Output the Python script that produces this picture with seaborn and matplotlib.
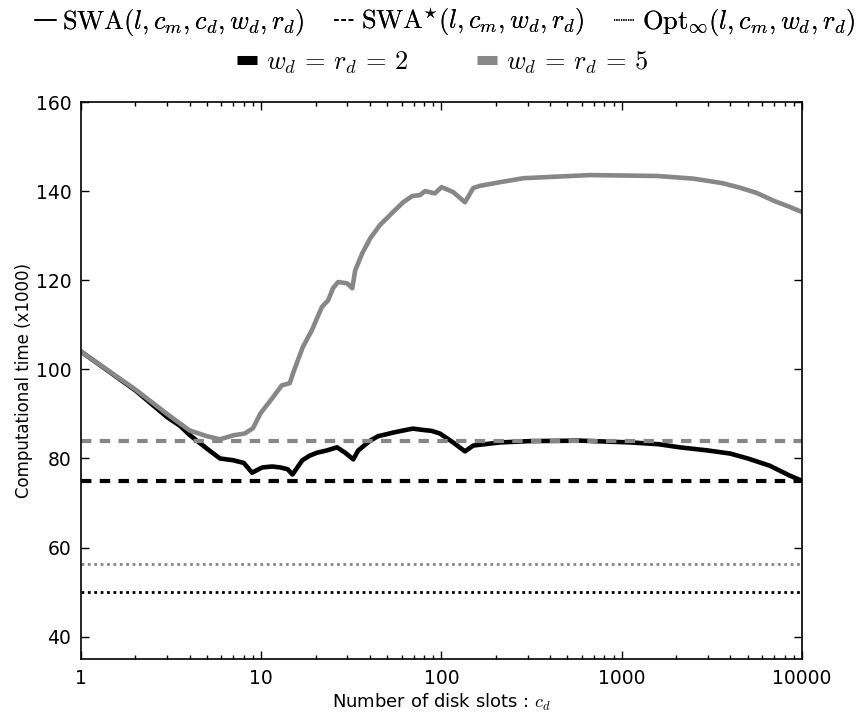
import numpy as np
import pandas as pd
import matplotlib
matplotlib.use("Agg")
import matplotlib.pyplot as plt
from matplotlib.lines import Line2D
from matplotlib.ticker import FixedLocator, FixedFormatter, LogLocator, NullFormatter
import seaborn as sns

# ---- data ----
x_w2 = [1, 2, 3, 3.55, 4, 5, 5.9, 7.0, 8.0, 8.9, 9.9, 10.2, 11.5, 12.7, 14.0, 14.9, 16.9, 18.5,
        20.4, 23.1, 26.3, 29.2, 32.4, 34.5, 40.2, 44.5, 53.8, 60, 69.4, 79, 88, 98, 116, 135,
        150, 211, 311, 588, 1120, 1600, 2100, 3000, 4000, 5000, 6600, 7500, 8500, 10000]
y_w2 = [104, 95.3, 89.3, 87.3, 85.3, 82.2, 80.0, 79.6, 79.0, 76.8, 77.8, 78.0, 78.2, 78.0, 77.6,
        76.4, 79.6, 80.6, 81.3, 81.8, 82.5, 81.3, 79.8, 81.8, 84.0, 85.0, 85.8, 86.2, 86.7, 86.4,
        86.2, 85.6, 83.6, 81.6, 82.9, 83.6, 83.9, 84.0, 83.6, 83.2, 82.5, 81.8, 81.1, 80.0, 78.4,
        77.3, 76.2, 75.0]

x_w5 = [1, 2, 3, 4, 5, 5.9, 7.0, 8.1, 9.0, 9.9, 10.2, 11.5, 13.0, 14.4, 15.0, 17.0, 19.1, 20.4,
        21.7, 23.5, 25, 26.7, 30, 32, 33.2, 36.3, 40.2, 45.6, 53.8, 61.3, 68.8, 76, 81, 92, 100,
        116, 135, 150, 164, 211, 285, 668, 1570, 2500, 3600, 4500, 5600, 7000, 8500, 10000]
y_w5 = [104, 95.5, 90, 86.3, 85.0, 84.3, 85.2, 85.6, 86.8, 90.1, 90.8, 93.5, 96.4, 96.9, 99.1,
        105, 108.8, 111.5, 114, 115.5, 118.2, 119.6, 119.3, 118.2, 122.2, 126, 129.4, 132.4,
        135.3, 137.5, 138.9, 139.1, 140, 139.5, 140.9, 139.8, 137.5, 140.7, 141.2, 142, 142.9,
        143.6, 143.4, 142.8, 141.8, 140.8, 139.6, 137.8, 136.5, 135.3]

swa_star = [75.0, 84.0]   # SWA* for w_d=r_d=2, 5
opt_inf = [50.0, 56.3]    # Opt_inf for w_d=r_d=2, 5

x_ticks = [1, 10, 100, 1000, 10000]
x_ticklabels = ["1", "10", "100", "1000", "10000"]
y_ticks = [40, 60, 80, 100, 120, 140, 160]

series_labels = [r"$w_d\,=\,r_d\,=\,2$", r"$w_d\,=\,r_d\,=\,5$"]
style_labels = [r"$\mathrm{SWA}(l, c_m, c_d, w_d, r_d)$",
                r"$\mathrm{SWA}^{\star}(l, c_m, w_d, r_d)$",
                r"$\mathrm{Opt}_{\infty}(l, c_m, w_d, r_d)$"]

BLACK = "#000000"
GRAY = "#878787"
colors = [BLACK, GRAY]

df = pd.concat([
    pd.DataFrame({"cd": x_w2, "t": y_w2, "s": "w2"}),
    pd.DataFrame({"cd": x_w5, "t": y_w5, "s": "w5"}),
])

sns.set_style("ticks")
plt.rcParams["mathtext.fontset"] = "cm"
plt.rcParams["font.family"] = ["DejaVu Sans"]
for k in ["text.color", "axes.labelcolor", "xtick.color", "ytick.color", "axes.edgecolor"]:
    plt.rcParams[k] = "black"

fig = plt.figure(figsize=(8.6, 7.16), dpi=100)
ax = fig.add_axes([81 / 860, 1 - 659 / 716, (802 - 81) / 860, (659 - 102) / 716])

sns.lineplot(data=df, x="cd", y="t", hue="s", hue_order=["w2", "w5"],
             palette={"w2": BLACK, "w5": GRAY}, linewidth=3.3, ax=ax,
             legend=False, estimator=None, sort=False)

for v, c in zip(swa_star, colors):
    ax.axhline(v, color=c, lw=3.0, dashes=(2.5, 2.0))
for v, c in zip(opt_inf, colors):
    ax.axhline(v, color=c, lw=2.0, dashes=(1.0, 1.3))

ax.set_xscale("log")
ax.set_xlim(1, 10000)
ax.set_ylim(35, 160)
ax.xaxis.set_major_locator(FixedLocator(x_ticks))
ax.xaxis.set_major_formatter(FixedFormatter(x_ticklabels))
ax.xaxis.set_minor_locator(LogLocator(base=10, subs=np.arange(2, 10)))
ax.xaxis.set_minor_formatter(NullFormatter())
ax.set_yticks(y_ticks)
ax.set_yticklabels([str(v) for v in y_ticks])

ax.tick_params(which="both", direction="in", top=True, right=True, labelsize=13.5, width=1)
ax.tick_params(which="major", length=6, pad=7)
ax.tick_params(which="minor", length=3)
for sp in ax.spines.values():
    sp.set_visible(True)
    sp.set_linewidth(1.2)
    sp.set_color("black")

ax.set_xlabel(r"Number of disk slots : $c_d$", fontsize=13, labelpad=3)
ax.set_ylabel("Computational time (x1000)", fontsize=12, labelpad=2)

# legends
h1 = [Line2D([], [], color="black", lw=1.2, linestyle="-"),
      Line2D([], [], color="black", lw=1.2, dashes=(2.8, 1.6)),
      Line2D([], [], color="black", lw=1.2, dashes=(0.7, 0.7))]
leg1 = fig.legend(h1, style_labels, loc="center", bbox_to_anchor=(0.517, 0.969), ncol=3,
                  frameon=False, fontsize=19, handlelength=0.8, handletextpad=0.25,
                  columnspacing=1.1, borderaxespad=0)
h2 = [Line2D([], [], color=BLACK, lw=6.5, solid_capstyle="butt"),
      Line2D([], [], color=GRAY, lw=6.5, solid_capstyle="butt")]
leg2 = fig.legend(h2, series_labels, loc="center", bbox_to_anchor=(0.515, 0.913), ncol=2,
                  frameon=False, fontsize=19, handlelength=0.75, handletextpad=0.35,
                  columnspacing=2.6, borderaxespad=0)
fig.add_artist(leg1)

fig.savefig("out.png", dpi=100)
